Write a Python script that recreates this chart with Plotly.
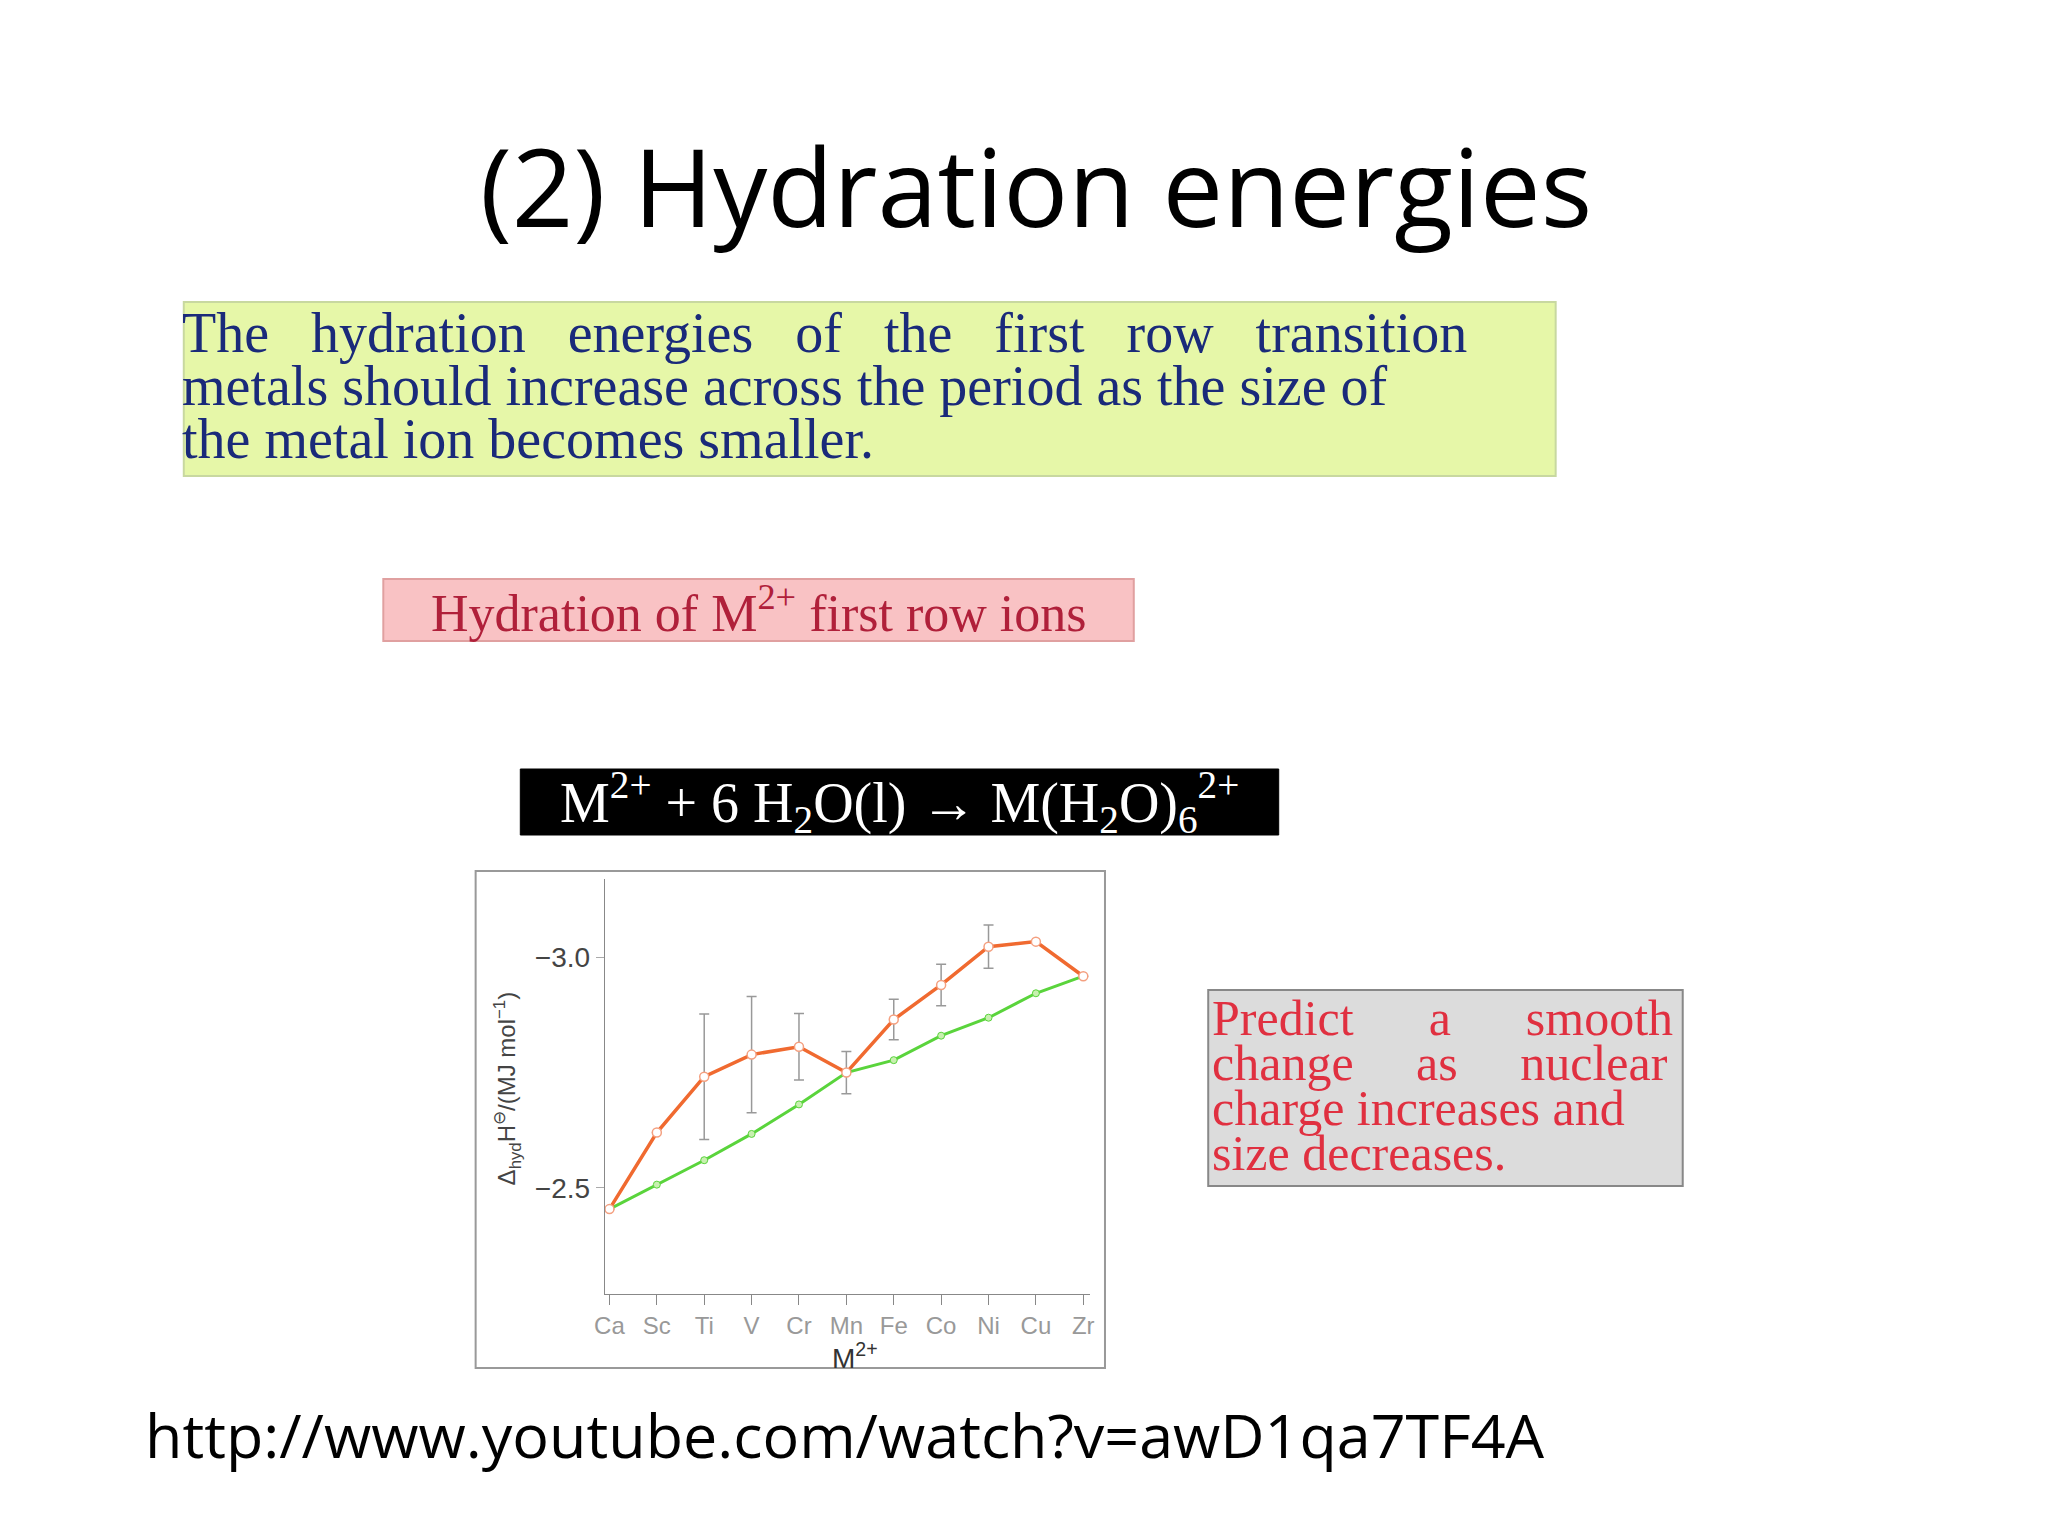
import plotly.graph_objects as go

ions = ["Ca", "Sc", "Ti", "V", "Cr", "Mn", "Fe", "Co", "Ni", "Cu", "Zn"]
observed = [-2.454, -2.62, -2.741, -2.789, -2.806, -2.750, -2.865, -2.940, -3.023, -3.034, -2.959]
err = [0, 0, 0.136, 0.126, 0.072, 0.046, 0.044, 0.045, 0.047, 0, 0]
smooth = [-2.454, -2.507, -2.560, -2.617, -2.681, -2.750, -2.777, -2.830, -2.869, -2.922, -2.959]
xlabels = ["Ca", "Sc", "Ti", "V", "Cr", "Mn", "Fe", "Co", "Ni", "Cu", "Zr"]

xs = list(range(len(ions)))
fig = go.Figure()
fig.add_trace(go.Scatter(x=xs, y=smooth, mode="lines+markers",
    line=dict(color="#5ad43c", width=3),
    marker=dict(size=7, color="#c8f0b0", line=dict(color="#5ad43c", width=1))))
fig.add_trace(go.Scatter(x=xs, y=observed, mode="lines+markers",
    line=dict(color="#f06a30", width=3.5),
    marker=dict(size=9, color="white", line=dict(color="#f4a080", width=1.5)),
    error_y=dict(type="data", array=err, visible=True, color="#999999", thickness=1.5, width=5)))

W, H = 2048, 1536
def px(x): return x / W
def py(y): return 1 - y / H

shapes = [
    dict(type="rect", xref="paper", yref="paper", x0=px(460), x1=px(1094), y0=py(1360), y1=py(863),
         line=dict(color="#999999", width=2), fillcolor="rgba(0,0,0,0)", layer="below"),
    dict(type="rect", xref="paper", yref="paper", x0=px(166), x1=px(1548), y0=py(468), y1=py(294),
         line=dict(color="#c8d8a0", width=2), fillcolor="#e6f7a8"),
    dict(type="rect", xref="paper", yref="paper", x0=px(367), x1=px(1123), y0=py(633), y1=py(571),
         line=dict(color="#e0a0a0", width=2), fillcolor="#f9c2c4"),
    dict(type="rect", xref="paper", yref="paper", x0=px(505), x1=px(1269), y0=py(827), y1=py(761),
         line=dict(color="black", width=1), fillcolor="black"),
    dict(type="rect", xref="paper", yref="paper", x0=px(1198), x1=px(1676), y0=py(1178), y1=py(982),
         line=dict(color="#888888", width=2), fillcolor="#dcdcdc"),
]

serif = "Liberation Serif"
blue = dict(family=serif, size=56, color="#1a2a7a")
red = dict(family=serif, size=50, color="#e03040")
ann = [
    dict(text="(2) Hydration energies", x=px(1025), y=py(178), font=dict(family="Open Sans", size=108, color="black")),
    dict(text="The   hydration   energies   of   the   first   row   transition", x=px(162), y=py(325), xanchor="left", font=blue),
    dict(text="metals should increase across the period as the size of", x=px(162), y=py(378), xanchor="left", font=blue),
    dict(text="the metal ion becomes smaller.", x=px(162), y=py(431), xanchor="left", font=blue),
    dict(text="Hydration of M<sup>2+</sup> first row ions", x=px(745), y=py(601), font=dict(family=serif, size=52, color="#b0203a")),
    dict(text="M<sup>2+</sup> + 6 H<sub>2</sub>O(l) → M(H<sub>2</sub>O)<sub>6</sub><sup>2+</sup>", x=px(887), y=py(794), font=dict(family=serif, size=56, color="white")),
    dict(text="Predict      a      smooth", x=px(1200), y=py(1010), xanchor="left", font=red),
    dict(text="change     as     nuclear", x=px(1200), y=py(1055), xanchor="left", font=red),
    dict(text="charge increases and", x=px(1200), y=py(1100), xanchor="left", font=red),
    dict(text="size decreases.", x=px(1200), y=py(1145), xanchor="left", font=red),
    dict(text="http://www.youtube.com/watch?v=awD1qa7TF4A", x=px(125), y=py(1426), xanchor="left", font=dict(family="Open Sans", size=61, color="black")),
    dict(text="M<sup>2+</sup>", x=px(842), y=py(1348), font=dict(family="Liberation Sans", size=28, color="#333")),
    dict(text="Δ<sub>hyd</sub>H<sup>⊖</sup>/(MJ mol<sup>−1</sup>)", x=px(492), y=py(1080), textangle=-90, font=dict(family="Liberation Sans", size=24, color="#444")),
]
for a in ann:
    a.update(xref="paper", yref="paper", showarrow=False)
    a.setdefault("xanchor", "center")
    a.setdefault("yanchor", "middle")

fig.update_layout(
    width=W, height=H, margin=dict(l=0, r=0, t=0, b=0),
    paper_bgcolor="white", plot_bgcolor="white", showlegend=False,
    shapes=shapes, annotations=ann,
    xaxis=dict(domain=[0.2881, 0.527], range=[-0.1, 10.15], tickvals=xs, ticktext=xlabels,
               showline=True, linecolor="#888", ticks="outside", tickcolor="#888", ticklen=10,
               showgrid=False, zeroline=False, tickfont=dict(family="Liberation Sans", size=24, color="#999")),
    yaxis=dict(domain=[0.1628, 0.433], range=[-2.27, -3.17], tickvals=[-3.0, -2.5], ticktext=["−3.0", "−2.5"],
               showline=True, linecolor="#888", ticks="outside", tickcolor="#aaa", ticklen=8,
               showgrid=False, zeroline=False, tickfont=dict(family="Liberation Sans", size=28, color="#444")),
)
fig.write_html("out.html")
